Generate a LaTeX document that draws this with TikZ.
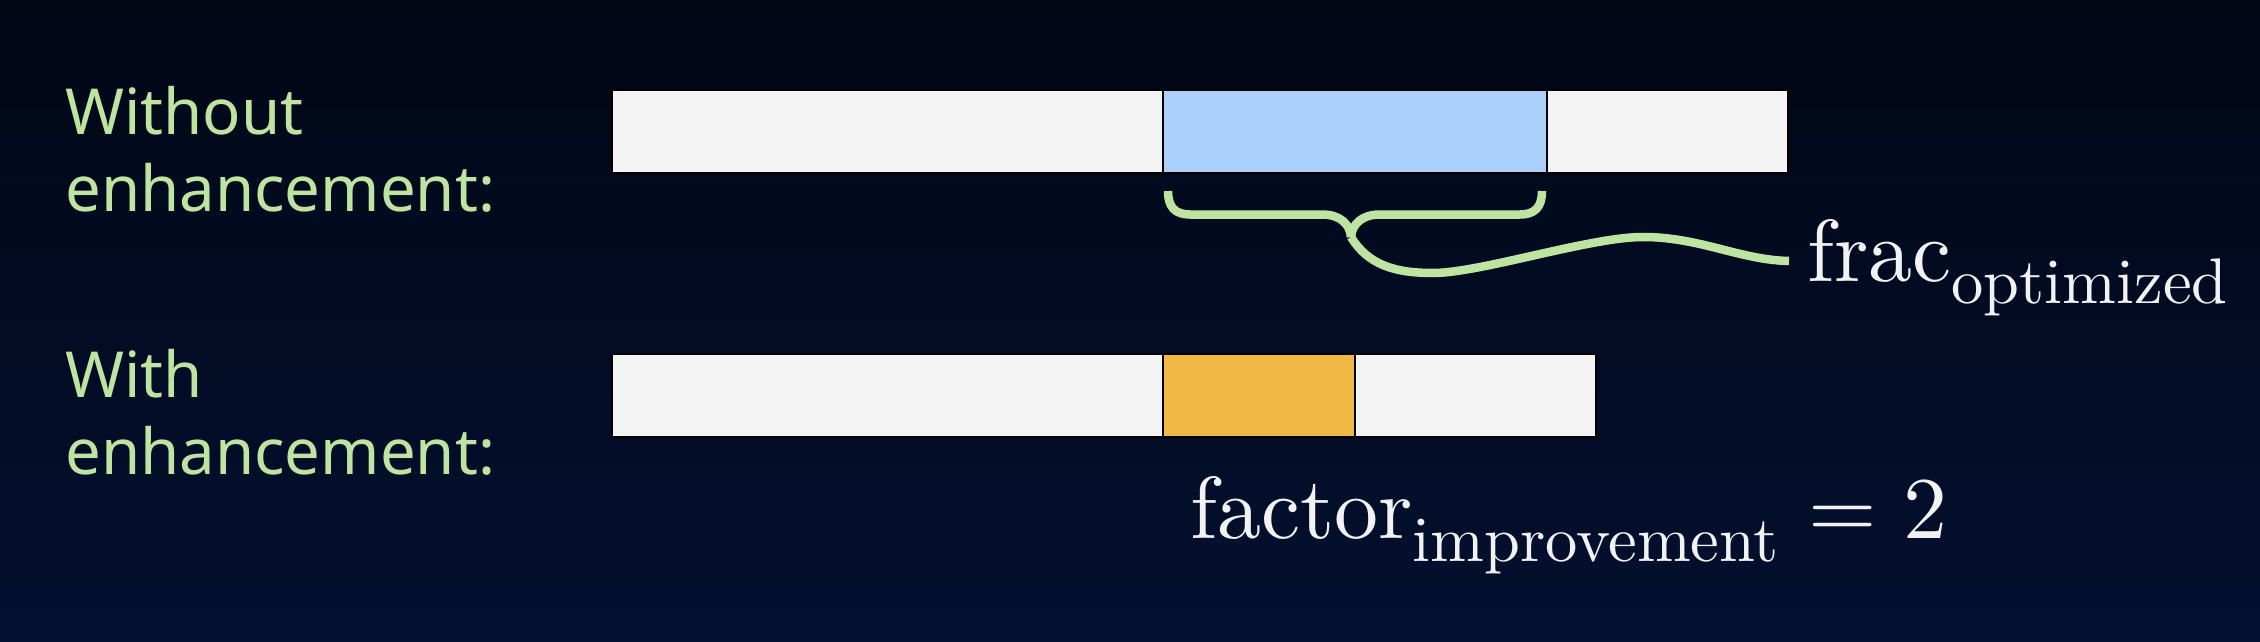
\documentclass[tikz,border=0pt]{standalone}
\usepackage{fontspec}
\newfontfamily\labelfont{Noto Sans}
\newfontfamily\lmten{lmroman10-regular.otf}
\definecolor{bgtop}{RGB}{2,7,22}
\definecolor{bgbot}{RGB}{3,16,48}
\definecolor{barGray}{RGB}{243,243,243}
\definecolor{barBlue}{RGB}{170,208,251}
\definecolor{barOrange}{RGB}{240,185,70}
\definecolor{lgreen}{RGB}{189,229,161}
\definecolor{txtwhite}{RGB}{242,242,242}
\tikzset{
  seg/.style={draw=black, line width=2.5pt, inner sep=0pt, outer sep=0pt, anchor=north west, minimum height=83pt},
  rowlabel/.style={inner sep=0pt, anchor=base west, text=lgreen, font=\labelfont\fontsize{63.5}{80}\selectfont},
  mathlbl/.style={inner sep=0pt, anchor=base west, text=txtwhite, font=\lmten\fontsize{88}{100}\selectfont},
  bracestroke/.style={draw=lgreen, line width=8.5pt, line cap=butt, line join=round}
}
\newcommand{\subtxt}[2]{\raisebox{-#1pt}{\fontsize{64.5}{70}\selectfont #2}}
\begin{document}
\begin{tikzpicture}[x=1pt,y=-1pt]
\useasboundingbox (0,0) rectangle (2260,642);
\shade[top color=bgtop, bottom color=bgbot] (0,0) rectangle (2260,642);

% top bar (without enhancement)
\node[seg, fill=barGray, minimum width=551pt] (t1) at (612,90) {};
\node[seg, fill=barBlue, minimum width=384pt] (t2) at (1163,90) {};
\node[seg, fill=barGray, minimum width=241pt] (t3) at (1547,90) {};

% bottom bar (with enhancement)
\node[seg, fill=barGray, minimum width=551pt] (b1) at (612,354) {};
\node[seg, fill=barOrange, minimum width=192pt] (b2) at (1163,354) {};
\node[seg, fill=barGray, minimum width=241pt] (b3) at (1355,354) {};

% row labels
\node[rowlabel] (l1a) at (65,134) {Without};
\node[rowlabel] (l1b) at (65,211) {enhancement:};
\node[rowlabel] (l2a) at (65,397) {With};
\node[rowlabel] (l2b) at (65,474) {enhancement:};

% brace
\coordinate (bl) at (1168,191);
\coordinate (br) at (1542,191);
\coordinate (tip) at (1351,237);
\coordinate (wend) at (1789,261);
\draw[bracestroke] (bl) .. controls (1168,207) and (1175,214.5) .. (1190,214.5)
  -- (1322,214.5) .. controls (1340,214.5) and (1350,224) .. (tip);
\draw[bracestroke] (tip) .. controls (1352,224) and (1362,214.5) .. (1380,214.5)
  -- (1520,214.5) .. controls (1535,214.5) and (1542,207) .. (br);
\draw[bracestroke] (tip) .. controls (1368,265) and (1395,273) .. (1433,273)
  .. controls (1480,273) and (1590,237) .. (1643,237)
  .. controls (1700,237) and (1740,260) .. (wend);

% labels
\node[mathlbl] (frac) at (1807,281) {frac\subtxt{22}{optimized}};
\node[mathlbl] (factor) at (1190,538) {factor\subtxt{23}{improvement}\hspace{30pt}=\hspace{26pt}2};
\end{tikzpicture}
\end{document}
